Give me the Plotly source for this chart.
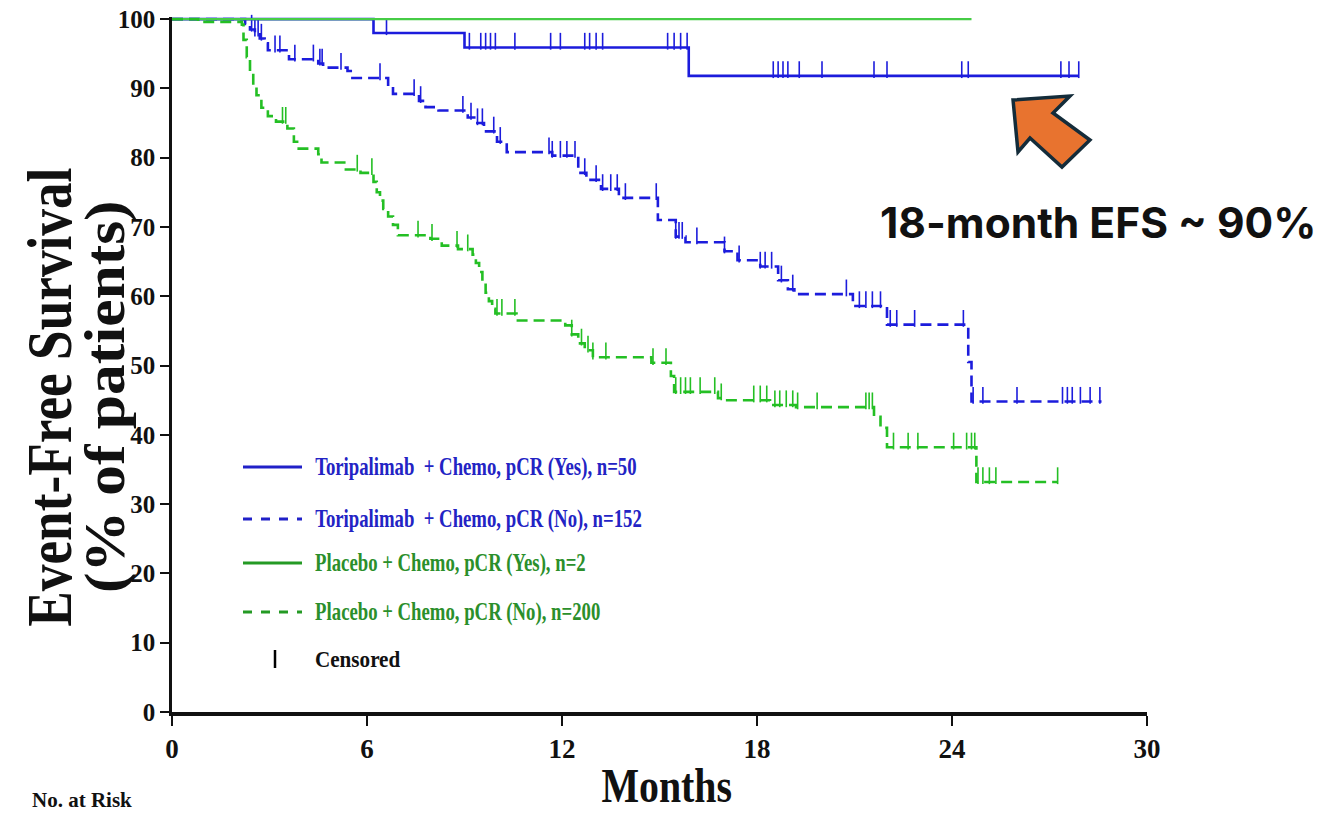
import json
import numpy as np
import plotly.graph_objects as go

# ---------------- data (months, % event-free) ----------------
TORI_YES_T = [0, 6.2, 9.0, 15.9]
TORI_YES_S = [100, 98.0, 95.9, 91.8]
TORI_YES_END = 27.9
TORI_YES_CENS = [1.4, 2.05, 2.75, 6.6, 9.15, 9.5, 9.65, 9.8, 9.95, 10.55, 11.65, 11.95,
                 12.7, 12.85, 13.05, 13.25, 15.25, 15.45, 15.65, 15.85, 18.5, 18.65, 18.8,
                 18.95, 19.3, 20.0, 21.6, 22.0, 24.3, 24.5, 27.35, 27.6, 27.9]

TORI_NO_T = [0, 2.25, 2.4, 2.55, 2.7, 2.85, 2.95, 3.6, 4.5, 4.65, 5.4, 5.5, 6.65, 6.8, 7.6,
             7.8, 8.2, 9.1, 9.3, 9.6, 10.0, 10.3, 11.7, 12.5, 12.75, 13.2, 13.75, 14.95,
             15.5, 15.8, 17.0, 17.4, 18.1, 18.65, 18.95, 19.15, 20.95, 22.0, 24.5, 24.6]
TORI_NO_S = [100, 99.3, 98.5, 97.8, 97.2, 96.5, 95.5, 94.2, 93.6, 93.0, 92.5, 91.5, 90.2,
             89.2, 88.2, 87.3, 86.8, 85.8, 85.0, 83.8, 82.3, 80.8, 80.3, 77.8, 76.8, 75.5,
             74.2, 71.0, 68.6, 67.8, 66.5, 65.2, 64.3, 62.3, 61.0, 60.3, 58.6, 55.9, 50.5, 44.8]
TORI_NO_END = 28.6
TORI_NO_CENS = [2.45, 2.55, 2.65, 2.75, 3.17, 3.32, 3.78, 4.35, 4.55, 4.62, 5.2, 6.4, 7.45,
                7.65, 8.95, 9.2, 9.4, 9.55, 9.9, 10.1, 11.6, 11.7, 11.95, 12.15, 12.4, 12.7,
                13.05, 13.25, 13.5, 13.7, 13.95, 14.9, 15.5, 15.6, 15.7, 16.15, 17.0, 17.45,
                18.1, 18.25, 18.45, 18.75, 19.1, 20.75, 21.15, 21.35, 21.55, 21.8, 22.1, 22.3,
                22.85, 24.35, 24.65, 24.95, 26.0, 27.4, 27.55, 27.7, 27.95, 28.25, 28.55]

PLA_YES_T = [0]
PLA_YES_S = [100]
PLA_YES_END = 24.6
PLA_YES_CENS = [12.55, 24.6]

PLA_NO_T = [0, 0.8, 2.15, 2.2, 2.3, 2.4, 2.5, 2.6, 2.75, 2.95, 3.2, 3.55, 3.75, 3.85, 4.5,
            4.6, 5.35, 5.8, 6.2, 6.3, 6.4, 6.5, 6.65, 6.8, 6.95, 7.95, 8.3, 8.8, 9.25, 9.35,
            9.45, 9.55, 9.65, 9.75, 9.85, 9.95, 10.6, 12.1, 12.3, 12.5, 12.7, 12.95, 14.75,
            15.35, 15.45, 16.8, 17.0, 18.4, 19.2, 21.6, 21.8, 22.0, 24.75]
PLA_NO_S = [100, 99.6, 99.2, 97.0, 94.5, 92.3, 90.5, 89.0, 87.2, 86.0, 85.2, 84.2, 82.3,
            81.3, 80.5, 79.3, 78.3, 77.8, 76.5, 75.0, 73.8, 72.6, 71.5, 70.3, 68.8, 68.3,
            67.3, 66.8, 66.0, 64.8, 63.5, 62.0, 60.5, 59.3, 58.2, 57.5, 56.5, 55.8, 54.5,
            53.2, 52.2, 51.2, 50.4, 48.5, 46.2, 45.3, 45.0, 44.3, 44.0, 42.6, 41.0, 38.2, 33.2]
PLA_NO_END = 27.25
PLA_NO_CENS = [1.0, 1.45, 2.05, 3.4, 3.5, 5.7, 6.15, 7.57, 8.0, 8.77, 9.1, 10.0, 10.15, 10.55,
               12.3, 12.6, 12.8, 12.95, 13.35, 14.8, 15.2, 15.5, 15.65, 15.8, 15.95, 16.25,
               16.7, 16.9, 17.9, 18.1, 18.3, 18.55, 18.7, 18.9, 19.1, 19.25, 19.85, 21.35,
               21.45, 21.55, 22.2, 22.65, 22.95, 24.05, 24.45, 24.6, 24.7, 24.8, 24.95, 25.15,
               25.35, 27.25]

X_TICKS = [0, 6, 12, 18, 24, 30]
Y_TICKS = [0, 10, 20, 30, 40, 50, 60, 70, 80, 90, 100]

LEGEND_LABELS = ["Toripalimab  + Chemo, pCR (Yes), n=50",
                 "Toripalimab  + Chemo, pCR (No), n=152",
                 "Placebo + Chemo, pCR (Yes), n=2",
                 "Placebo + Chemo, pCR (No), n=200"]

# ---------------- styling ----------------
BLUE = "#1c1cdc"
GREEN_SOLID = "#46cc46"
GREEN_DASH = "#24bf24"
SERIF = "Liberation Serif, Times New Roman, serif"
DASH = "11px,6px"

curves = [
    (TORI_YES_T, TORI_YES_S, TORI_YES_END, TORI_YES_CENS, BLUE, "solid", 2.6),
    (TORI_NO_T, TORI_NO_S, TORI_NO_END, TORI_NO_CENS, BLUE, DASH, 2.6),
    (PLA_YES_T, PLA_YES_S, PLA_YES_END, PLA_YES_CENS, GREEN_SOLID, "solid", 2.4),
    (PLA_NO_T, PLA_NO_S, PLA_NO_END, PLA_NO_CENS, GREEN_DASH, DASH, 2.6),
]

fig = go.Figure()
TICK_UP = 0.9  # censor tick drawn above the curve

for t, s, end, cens, col, dash, lw in curves:
    xs = list(t) + [end]
    ys = list(s) + [s[-1]]
    fig.add_trace(go.Scatter(x=xs, y=ys, mode="lines", line_shape="hv",
                             line=dict(color=col, width=lw, dash=dash),
                             cliponaxis=False, showlegend=False, hoverinfo="skip"))
    ta = np.array(t, dtype=float)
    sa = np.array(s, dtype=float)
    cx = np.array(cens, dtype=float)
    idx = np.searchsorted(ta, cx, side="right") - 1
    cy = sa[idx] + TICK_UP
    fig.add_trace(go.Scatter(x=cx, y=cy, mode="markers",
                             marker=dict(symbol="line-ns", size=12,
                                         line=dict(color=col, width=1.6)),
                             cliponaxis=False, showlegend=False, hoverinfo="skip"))

# plot area in pixels (y range slightly above 100 so top curves are not clipped)
W, H = 1337, 816
Y_TOP = 100.3
L, R, T, B = 172, 1147, 17, 712
def px(x):
    return (x - L) / (R - L)
def py(y):
    return (B - y) / (B - T)

shapes = []
annotations = []
condense = {}   # annotation index -> [scale along text, scale across, anchor]

def add_ann(spec, sx=1.0, sy=1.0, anchor="c"):
    condense[len(annotations)] = [sx, sy, anchor]
    annotations.append(spec)

# legend (manual)
leg_rows = [467, 519, 563, 612]
leg_cols = ["#2323c4", "#2323c4", "#2b8f2b", "#2b8f2b"]
leg_line_cols = ["#2020c8", "#2020c8", "#249a24", "#249a24"]
leg_dash = ["solid", "dash", "solid", "dash"]
for yy, lab, tc, lc, dd in zip(leg_rows, LEGEND_LABELS, leg_cols, leg_line_cols, leg_dash):
    shapes.append(dict(type="line", xref="paper", yref="paper",
                       x0=px(243), x1=px(302), y0=py(yy), y1=py(yy),
                       line=dict(color=lc, width=3, dash=dd)))
    add_ann(dict(xref="paper", yref="paper", x=px(313), y=py(yy),
                 xanchor="left", yanchor="middle", showarrow=False,
                 text="<b>%s</b>" % lab,
                 font=dict(family=SERIF, size=25, color=tc)), sx=0.75, anchor="l")
shapes.append(dict(type="line", xref="paper", yref="paper",
                   x0=px(275), x1=px(275), y0=py(650), y1=py(668),
                   line=dict(color="black", width=2.5)))
add_ann(dict(xref="paper", yref="paper", x=px(313), y=py(659),
             xanchor="left", yanchor="middle", showarrow=False,
             text="<b>Censored</b>",
             font=dict(family=SERIF, size=24, color="#111")), sx=0.88, anchor="l")

# axis titles
add_ann(dict(xref="paper", yref="paper", x=px(50), y=py(397),
             xanchor="center", yanchor="middle", showarrow=False, textangle=-90,
             text="<b>Event-Free Survival</b>",
             font=dict(family=SERIF, size=48, color="#111")), sx=1.11, sy=1.3)
add_ann(dict(xref="paper", yref="paper", x=px(105), y=py(397),
             xanchor="center", yanchor="middle", showarrow=False, textangle=-90,
             text="<b>(% of patients)</b>",
             font=dict(family=SERIF, size=48, color="#111")), sx=1.28, sy=1.2)
add_ann(dict(xref="paper", yref="paper", x=px(666), y=py(785),
             xanchor="center", yanchor="middle", showarrow=False,
             text="<b>Months</b>",
             font=dict(family=SERIF, size=48, color="#111")), sx=0.83)
add_ann(dict(xref="paper", yref="paper", x=px(30), y=py(800),
             xanchor="left", yanchor="middle", showarrow=False,
             text="<b>No. at Risk</b>",
             font=dict(family=SERIF, size=21, color="#111")), anchor="l")

# callout
add_ann(dict(xref="paper", yref="paper", x=px(1098), y=py(222),
             xanchor="center", yanchor="middle", showarrow=False,
             text="<b>18-month EFS ~ 90%</b>",
             font=dict(family="Inter, Open Sans, sans-serif", size=42.5, color="#111")))
arrow_pts = [(1013, 100), (1070, 96), (1053, 113), (1090, 140), (1062, 167), (1030, 138), (1018, 152)]
path = "M " + " L ".join("%.4f,%.4f" % (px(a), py(b)) for a, b in arrow_pts) + " Z"
shapes.append(dict(type="path", xref="paper", yref="paper", path=path,
                   fillcolor="#e8732f", line=dict(color="#142c3a", width=3.5)))

fig.update_layout(
    width=W, height=H, autosize=False,
    margin=dict(l=L, r=W - R, t=T, b=H - B, pad=0),
    paper_bgcolor="white", plot_bgcolor="white",
    shapes=shapes, annotations=annotations,
    xaxis=dict(range=[0, 30], tickvals=X_TICKS, ticktext=["<b>%d</b>" % v for v in X_TICKS],
               automargin=False,
               showgrid=False, zeroline=False, showline=True, linecolor="#111", linewidth=3.5,
               ticks="outside", ticklen=10, tickwidth=2, tickcolor="#111",
               tickfont=dict(family=SERIF, size=27, color="#111")),
    yaxis=dict(range=[0, Y_TOP], tickvals=Y_TICKS, ticktext=["<b>%d</b>" % v for v in Y_TICKS],
               automargin=False,
               showgrid=False, zeroline=False, showline=True, linecolor="#111", linewidth=2.5,
               ticks="outside", ticklen=9, tickwidth=2, tickcolor="#111",
               tickfont=dict(family=SERIF, size=25, color="#111")),
)

post = """
document.body.style.margin='0';
(function(){
  var spec = %s;
  function squeeze(t, sx, sy, anchor){
    if(!t || t.getAttribute('data-sq')) return;
    var bb = t.getBBox();
    var cx = anchor==='l' ? bb.x : (anchor==='r' ? bb.x+bb.width : bb.x+bb.width/2);
    var cy = bb.y + bb.height/2;
    var tr = t.getAttribute('transform') || '';
    t.setAttribute('transform', tr+' translate('+cx+','+cy+') scale('+sx+','+sy+') translate('+(-cx)+','+(-cy)+')');
    t.setAttribute('data-sq','1');
  }
  function run(){
    document.querySelectorAll('g.annotation').forEach(function(g){
      var i = g.getAttribute('data-index');
      var s = spec[i];
      if(!s || (s[0]===1 && s[1]===1)) return;
      squeeze(g.querySelector('text'), s[0], s[1], s[2]);
    });
  }
  run();
  setTimeout(run, 50);
  setTimeout(run, 300);
})();
""" % json.dumps({str(k): v for k, v in condense.items()})

fig.write_html("out.html", include_plotlyjs=True, full_html=True,
               config={"displayModeBar": False}, post_script=post)
